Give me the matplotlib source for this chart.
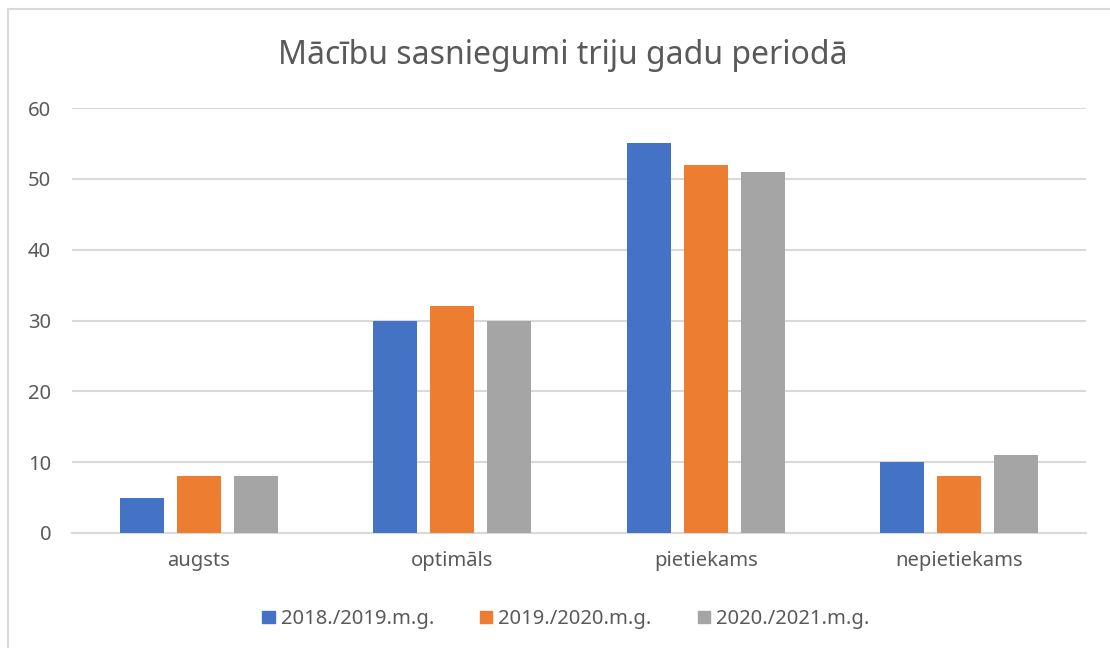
import matplotlib

matplotlib.use("Agg")
import matplotlib.pyplot as plt
import numpy as np
from matplotlib.lines import Line2D
from matplotlib.patches import Rectangle

categories = ["augsts", "optimāls", "pietiekams", "nepietiekams"]
series_names = ["2018./2019.m.g.", "2019./2020.m.g.", "2020./2021.m.g."]
v_2018 = [5, 30, 55, 10]
v_2019 = [8, 32, 52, 8]
v_2020 = [8, 30, 51, 11]
y_ticks = [0, 10, 20, 30, 40, 50, 60]

COLORS = ["#4472c4", "#ed7d31", "#a5a5a5"]
TXT = "#595959"
GRID = "#d9d9d9"

plt.rcParams["font.family"] = ["Noto Sans", "DejaVu Sans"]

fig = plt.figure(figsize=(11.1, 6.48), dpi=100)
fig.patch.set_facecolor("white")

# chart area border (left + top visible)
fig.add_artist(Line2D([8 / 1110, 8 / 1110], [0, 1 - 9 / 648], color=GRID, lw=1.5))
fig.add_artist(Line2D([8 / 1110, 1], [1 - 9 / 648, 1 - 9 / 648], color=GRID, lw=1.5))

ax = fig.add_axes([72 / 1110, 115 / 648, (1086 - 72) / 1110, (533 - 108) / 648])

x = np.arange(len(categories))
w = 0.174
step = 0.225
for i, (vals, name) in enumerate(zip([v_2018, v_2019, v_2020], series_names)):
    ax.bar(x + (i - 1) * step, vals, width=w, color=COLORS[i], label=name, zorder=3)

ax.set_xlim(-0.5, len(categories) - 0.5)
ax.set_ylim(0, 60)
ax.set_yticks(y_ticks)
ax.set_xticks(x)
ax.set_xticklabels(categories)
ax.tick_params(axis="both", length=0, colors=TXT)
ax.tick_params(axis="y", pad=15, labelsize=14.5)
ax.tick_params(axis="x", pad=13, labelsize=14.5)
ax.yaxis.grid(True, color=GRID, lw=1.5, zorder=0)
ax.set_axisbelow(True)
for s in ax.spines.values():
    s.set_visible(False)
ax.spines["bottom"].set_visible(True)
ax.spines["bottom"].set_color(GRID)
ax.spines["bottom"].set_linewidth(1.5)

fig.text(563 / 1110, 1 - 56 / 648, "Mācību sasniegumi triju gadu periodā",
         ha="center", va="center", fontsize=23, color=TXT)

handles = [Rectangle((0, 0), 1, 1, color=c) for c in COLORS]
fig.legend(handles, series_names, loc="center", bbox_to_anchor=(566 / 1110, 1 - 619 / 648),
           ncol=3, frameon=False, fontsize=14.5, labelcolor=TXT, handlelength=0.6,
           handleheight=0.6, handletextpad=0.3, columnspacing=2.3)

fig.savefig("out.png", dpi=100, facecolor="white")
